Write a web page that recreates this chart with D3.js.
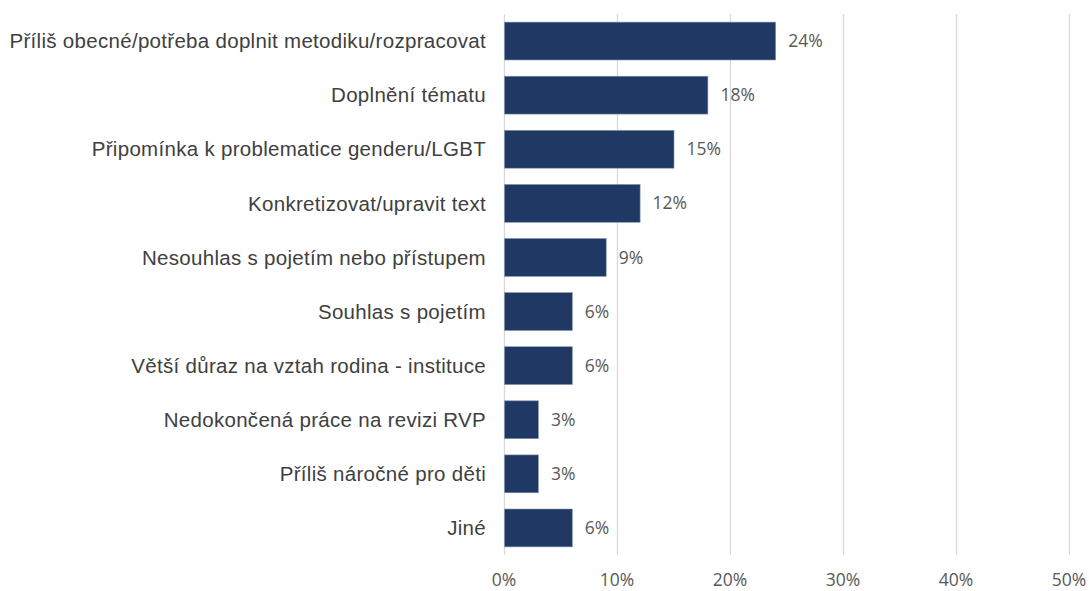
<!DOCTYPE html>
<html><head><meta charset="utf-8">
<script src="https://cdn.jsdelivr.net/npm/d3@7"></script>
<style>body{margin:0;background:#fff}</style>
</head><body>
<svg id="c" width="1089" height="591"></svg>
<script>
const categories = [
  "Příliš obecné/potřeba doplnit metodiku/rozpracovat",
  "Doplnění tématu",
  "Připomínka k problematice genderu/LGBT",
  "Konkretizovat/upravit text",
  "Nesouhlas s pojetím nebo přístupem",
  "Souhlas s pojetím",
  "Větší důraz na vztah rodina - instituce",
  "Nedokončená práce na revizi RVP",
  "Příliš náročné pro děti ",
  "Jiné"
];
const values = [24, 18, 15, 12, 9, 6, 6, 3, 3, 6];
const ticks = [0, 10, 20, 30, 40, 50];

const svg = d3.select("#c");
const x = d3.scaleLinear().domain([0, 50]).range([504, 1069]);
const y = d3.scaleBand().domain(categories).range([14, 555]).paddingInner(0.3).paddingOuter(0.15);

svg.append("g").selectAll("line").data(ticks).join("line")
  .attr("x1", d => x(d) + 0.5).attr("x2", d => x(d) + 0.5)
  .attr("y1", 14).attr("y2", 555)
  .attr("stroke", "#d9d9d9").attr("stroke-width", 1.3);

svg.append("g").selectAll("rect").data(values).join("rect")
  .attr("x", x(0) + 0.5)
  .attr("y", (d, i) => y(categories[i]))
  .attr("width", d => x(d) - x(0))
  .attr("height", y.bandwidth())
  .attr("fill", "#203864")
  .attr("stroke", "#8497b0").attr("stroke-width", 0.6);

svg.append("g").selectAll("text").data(values).join("text")
  .attr("x", d => x(d) + 13)
  .attr("y", (d, i) => y(categories[i]) + y.bandwidth() / 2)
  .attr("dy", "0.35em")
  .attr("font-family", "Open Sans, sans-serif")
  .attr("font-size", 17.5)
  .attr("fill", "#595959")
  .text(d => d + "%");

svg.append("g").selectAll("text").data(categories).join("text")
  .attr("x", 486)
  .attr("y", d => y(d) + y.bandwidth() / 2)
  .attr("dy", "0.35em")
  .attr("text-anchor", "end")
  .attr("font-family", "Liberation Sans, Arial, sans-serif")
  .attr("font-size", 20.5)
  .attr("letter-spacing", 0.3)
  .attr("fill", "#404040")
  .text(d => d);

svg.append("g").selectAll("text").data(ticks).join("text")
  .attr("x", d => x(d))
  .attr("y", 580)
  .attr("dy", "0.35em")
  .attr("text-anchor", "middle")
  .attr("font-family", "Open Sans, sans-serif")
  .attr("font-size", 17.5)
  .attr("fill", "#595959")
  .text(d => d + "%");
</script>
</body></html>
